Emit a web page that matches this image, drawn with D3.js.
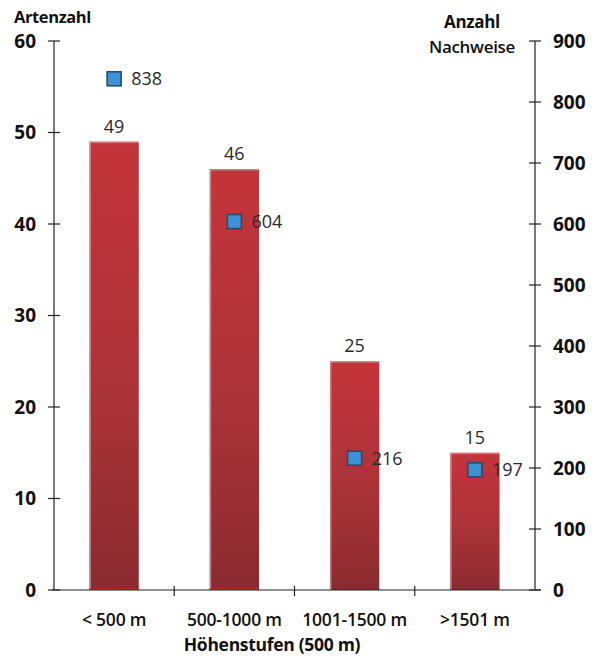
<!DOCTYPE html>
<html>
<head>
<meta charset="utf-8">
<script src="https://cdn.jsdelivr.net/npm/d3@7"></script>
<style>
  html, body { margin: 0; padding: 0; background: #fff; }
  svg { display: block; font-family: "Open Sans", "Noto Sans", sans-serif; }
</style>
</head>
<body>
<svg id="chart" width="596" height="659"></svg>
<script>
// Elevation zones and their values
const zones = ["< 500 m", "500-1000 m", "1001-1500 m", ">1501 m"];
const speciesCount = [49, 46, 25, 15];
const recordCount = [838, 604, 216, 197];
const leftTicks = [0, 10, 20, 30, 40, 50, 60];
const rightTicks = [0, 100, 200, 300, 400, 500, 600, 700, 800, 900];

const svg = d3.select("#chart");
const margin = { left: 54, right: 61, top: 41, bottom: 69 };
const W = 596, H = 659;
const x0 = margin.left, x1 = W - margin.right;
const yTop = margin.top, yBot = H - margin.bottom;

const x = d3.scaleBand().domain(zones).range([x0, x1]).paddingInner(0).paddingOuter(0);
const yL = d3.scaleLinear().domain([0, 60]).range([yBot, yTop]);
const yR = d3.scaleLinear().domain([0, 900]).range([yBot, yTop]);

const barW = x.bandwidth() * 0.41;

// Bar gradient: bright red at top, darker towards the baseline
const defs = svg.append("defs");
const grad = defs.append("linearGradient").attr("id", "barGrad")
  .attr("x1", 0).attr("y1", 0).attr("x2", 0).attr("y2", 1);
grad.append("stop").attr("offset", "0%").attr("stop-color", "#c4343a");
grad.append("stop").attr("offset", "55%").attr("stop-color", "#ab3338");
grad.append("stop").attr("offset", "100%").attr("stop-color", "#8a2b2f");

const blur = defs.append("filter").attr("id", "soft").attr("x", "-30%").attr("y", "-30%")
  .attr("width", "160%").attr("height", "160%");
blur.append("feGaussianBlur").attr("stdDeviation", 0.6);

// Bars
const bars = svg.append("g");
bars.selectAll("rect.bar").data(zones).join("rect")
  .attr("class", "bar")
  .attr("x", d => x(d) + (x.bandwidth() - barW) / 2)
  .attr("y", (d, i) => yL(speciesCount[i]))
  .attr("width", barW)
  .attr("height", (d, i) => yBot - yL(speciesCount[i]))
  .attr("fill", "url(#barGrad)");
// soft light edge along each bar's left side and top
bars.selectAll("rect.edge").data(zones).join("rect")
  .attr("class", "edge")
  .attr("x", d => x(d) + (x.bandwidth() - barW) / 2)
  .attr("y", (d, i) => yL(speciesCount[i]))
  .attr("width", 1.5)
  .attr("height", (d, i) => yBot - yL(speciesCount[i]))
  .attr("fill", "#d9a0a0").attr("opacity", 0.7);
bars.selectAll("rect.topedge").data(zones).join("rect")
  .attr("class", "topedge")
  .attr("x", d => x(d) + (x.bandwidth() - barW) / 2)
  .attr("y", (d, i) => yL(speciesCount[i]))
  .attr("width", barW)
  .attr("height", 1.5)
  .attr("fill", "#e0a0a0").attr("opacity", 0.6);

// Bar value labels
svg.append("g").selectAll("text").data(zones).join("text")
  .attr("x", d => x(d) + x.bandwidth() / 2)
  .attr("y", (d, i) => yL(speciesCount[i]) - 9)
  .attr("text-anchor", "middle")
  .attr("font-size", 18)
  .attr("fill", "#2a2a2a")
  .text((d, i) => speciesCount[i]);

// X axis
const axisColor = "#222";
const gx = svg.append("g");
gx.append("line").attr("x1", x0 - 2).attr("x2", x1 + 6).attr("y1", yBot).attr("y2", yBot)
  .attr("stroke", axisColor).attr("stroke-width", 1.2);
gx.selectAll("line.tick").data(zones.slice(1)).join("line")
  .attr("class", "tick")
  .attr("x1", d => x(d)).attr("x2", d => x(d))
  .attr("y1", yBot - 4).attr("y2", yBot + 6)
  .attr("stroke", axisColor).attr("stroke-width", 1.2);
gx.selectAll("text").data(zones).join("text")
  .attr("x", d => x(d) + x.bandwidth() / 2)
  .attr("y", yBot + 36)
  .attr("text-anchor", "middle")
  .attr("font-size", 17.5).attr("font-weight", 600)
  .attr("letter-spacing", "-0.2")
  .attr("fill", "#111")
  .text(d => d);

// red baseline strip under the bars
bars.selectAll("rect.base").data(zones.slice(0, 2)).join("rect")
  .attr("x", d => x(d) + (x.bandwidth() - barW) / 2)
  .attr("y", yBot - 1.5)
  .attr("width", barW).attr("height", 1.5)
  .attr("fill", "#e32222");

// Left axis
const gl = svg.append("g");
gl.append("line").attr("x1", x0).attr("x2", x0).attr("y1", yTop).attr("y2", yBot)
  .attr("stroke", axisColor).attr("stroke-width", 1.2);
gl.selectAll("line.tick").data(leftTicks).join("line")
  .attr("x1", x0 - 6).attr("x2", x0 + 6)
  .attr("y1", d => yL(d)).attr("y2", d => yL(d))
  .attr("stroke", axisColor).attr("stroke-width", 1.2);
gl.selectAll("text").data(leftTicks).join("text")
  .attr("x", x0 - 18).attr("y", d => yL(d))
  .attr("dy", "0.35em")
  .attr("text-anchor", "end")
  .attr("font-size", 19).attr("font-weight", 700)
  .attr("fill", "#111")
  .text(d => d);
svg.append("text").attr("x", 14).attr("y", 23)
  .attr("font-size", 16.5).attr("font-weight", 700).attr("fill", "#111")
  .attr("letter-spacing", "-0.4")
  .text("Artenzahl");

// Right axis
const gr = svg.append("g");
gr.append("line").attr("x1", x1).attr("x2", x1).attr("y1", yTop).attr("y2", yBot)
  .attr("stroke", axisColor).attr("stroke-width", 1.2);
gr.selectAll("line.tick").data(rightTicks).join("line")
  .attr("x1", x1 - 6).attr("x2", x1 + 6)
  .attr("y1", d => yR(d)).attr("y2", d => yR(d))
  .attr("stroke", axisColor).attr("stroke-width", 1.2);
gr.selectAll("text").data(rightTicks).join("text")
  .attr("x", x1 + 18).attr("y", d => yR(d))
  .attr("dy", "0.35em")
  .attr("text-anchor", "start")
  .attr("font-size", 19).attr("font-weight", 700)
  .attr("fill", "#111")
  .text(d => d);
svg.append("text").attr("x", 472).attr("y", 28)
  .attr("text-anchor", "middle")
  .attr("font-size", 17).attr("font-weight", 700).attr("fill", "#111")
  .attr("letter-spacing", "-0.3")
  .text("Anzahl");
svg.append("text").attr("x", 472).attr("y", 53)
  .attr("text-anchor", "middle")
  .attr("font-size", 17).attr("font-weight", 600).attr("fill", "#111")
  .attr("letter-spacing", "-0.3")
  .text("Nachweise");

// Record markers (right scale)
const sq = 14;
const pts = svg.append("g");
pts.selectAll("rect").data(zones).join("rect")
  .attr("x", d => x(d) + x.bandwidth() / 2 - sq / 2)
  .attr("y", (d, i) => yR(recordCount[i]) - sq / 2)
  .attr("width", sq).attr("height", sq)
  .attr("fill", "#3b93d6")
  .attr("stroke", "#2c4a6e").attr("stroke-width", 1.6)
  .attr("filter", "url(#soft)");
pts.selectAll("text").data(zones).join("text")
  .attr("x", d => x(d) + x.bandwidth() / 2 + 17)
  .attr("y", (d, i) => yR(recordCount[i]))
  .attr("dy", "0.35em")
  .attr("font-size", 18)
  .attr("fill", "#2a2a2a")
  .text((d, i) => recordCount[i]);

// X axis title
svg.append("text").attr("x", 272).attr("y", yBot + 61)
  .attr("text-anchor", "middle")
  .attr("font-size", 17.5).attr("font-weight", 700).attr("fill", "#111")
  .attr("letter-spacing", "-0.3")
  .text("Höhenstufen (500 m)");
</script>
</body>
</html>
